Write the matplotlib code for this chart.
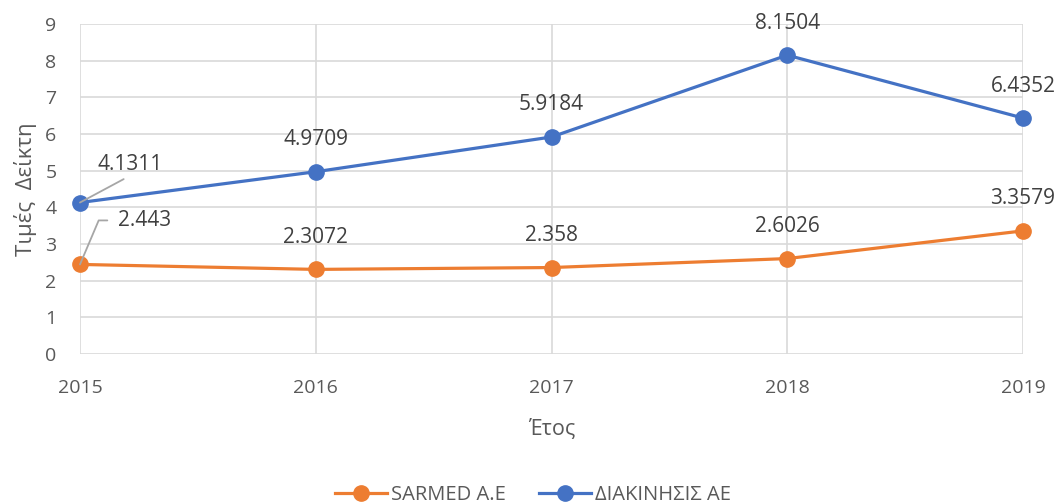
import matplotlib
matplotlib.use("Agg")
import matplotlib.pyplot as plt
from matplotlib.lines import Line2D

years = [2015, 2016, 2017, 2018, 2019]
sarmed = [2.443, 2.3072, 2.358, 2.6026, 3.3579]
diakinisis = [4.1311, 4.9709, 5.9184, 8.1504, 6.4352]
sarmed_labels = ["2.443", "2.3072", "2.358", "2.6026", "3.3579"]
diak_labels = ["4.1311", "4.9709", "5.9184", "8.1504", "6.4352"]

ORANGE = "#ED7D31"
BLUE = "#4472C4"
TXT = "#595959"
DTXT = "#404040"
GRID = "#D9D9D9"
LEAD = "#A6A6A6"

plt.rcParams['font.family'] = ['Open Sans', 'DejaVu Sans']

fig = plt.figure(figsize=(10.59, 5.04), dpi=100)
ax = fig.add_axes([80/1059, 1-354/504, (1023-80)/1059, (354-24)/504])

ax.plot(years, sarmed, color=ORANGE, lw=2.3, marker='o', ms=11, zorder=3, clip_on=False)
ax.plot(years, diakinisis, color=BLUE, lw=2.3, marker='o', ms=11, zorder=3, clip_on=False)

ax.set_xlim(2015, 2019)
ax.set_ylim(0, 9)
ax.set_yticks(range(0, 10))
ax.set_xticks(years)
ax.grid(True, color=GRID, lw=1.2)
ax.set_axisbelow(True)
for s in ax.spines.values():
    s.set_visible(False)
ax.tick_params(length=0, labelsize=14, labelcolor=TXT)
ax.tick_params(axis='x', pad=18)
ax.tick_params(axis='y', pad=17)

ax.set_xlabel("Έτος", fontsize=15.5, color=TXT, labelpad=16)
ax.set_ylabel("Τιμές  Δείκτη", fontsize=16, color=TXT, labelpad=6)

LFS = 15

# data labels
for i, (x, y) in enumerate(zip(years, diakinisis)):
    if i == 0:
        ax.annotate(diak_labels[i], xy=(x, y), xytext=(50, 38), textcoords='offset pixels',
                    ha='center', va='center', fontsize=LFS, color=DTXT,
                    arrowprops=dict(arrowstyle='-', color=LEAD, lw=1.3, shrinkA=2, shrinkB=0,
                                    relpos=(0.52, 0.0)))
    else:
        ax.annotate(diak_labels[i], xy=(x, y), xytext=(0, 32), textcoords='offset pixels',
                    ha='center', va='center', fontsize=LFS, color=DTXT)
for i, (x, y) in enumerate(zip(years, sarmed)):
    if i == 0:
        ax.annotate(sarmed_labels[i], xy=(x, y), xytext=(65, 44), textcoords='offset pixels',
                    ha='center', va='center', fontsize=LFS, color=DTXT,
                    arrowprops=dict(arrowstyle='-', color=LEAD, lw=1.3, shrinkA=6, shrinkB=0,
                                    relpos=(0.0, 0.5),
                                    connectionstyle='angle,angleA=0,angleB=67,rad=0'))
    else:
        ax.annotate(sarmed_labels[i], xy=(x, y), xytext=(0, 32), textcoords='offset pixels',
                    ha='center', va='center', fontsize=LFS, color=DTXT)

handles = [Line2D([0], [0], color=ORANGE, lw=2.3, marker='o', ms=11),
           Line2D([0], [0], color=BLUE, lw=2.3, marker='o', ms=11)]
fig.legend(handles, ["SARMED A.E", "ΔΙΑΚΙΝΗΣΙΣ ΑΕ"], loc='center', bbox_to_anchor=(533/1059, 9/504),
           ncol=2, frameon=False, fontsize=14.5, labelcolor=TXT, handlelength=2.6,
           handletextpad=0.2, columnspacing=1.6, borderpad=0.1)

fig.savefig("out.png", dpi=100)
